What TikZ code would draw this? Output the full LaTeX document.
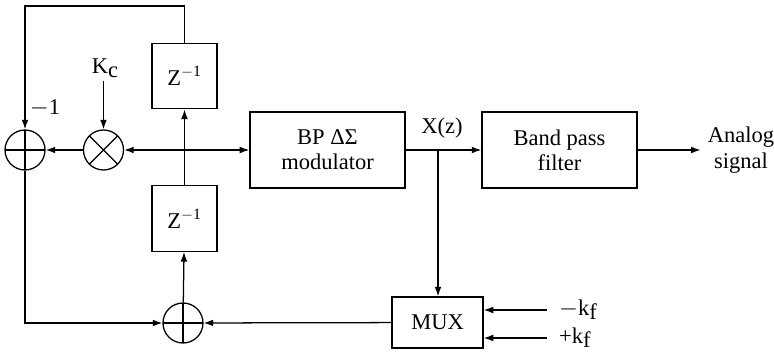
\documentclass[tikz,border=0pt]{standalone}
\usepackage{fontspec}
\setmainfont{Liberation Serif}
\usetikzlibrary{arrows.meta,positioning,calc}
\tikzset{
  bloque/.style={draw, line width=0.9pt, align=center, inner sep=2pt, font=\fontsize{16}{18}\selectfont},
  retardo/.style={bloque, minimum width=1.625cm, minimum height=1.64cm},
  suma/.style={draw, circle, line width=0.9pt, minimum size=1cm, inner sep=0pt,
    path picture={\draw[line width=0.9pt] (path picture bounding box.north) -- (path picture bounding box.south)
      (path picture bounding box.west) -- (path picture bounding box.east);}},
  producto/.style={draw, circle, line width=0.9pt, minimum size=1cm, inner sep=0pt,
    path picture={\draw[line width=0.9pt] (path picture bounding box.north west) -- (path picture bounding box.south east)
      (path picture bounding box.south west) -- (path picture bounding box.north east);}},
  fl/.style={-{Latex[length=2.4mm,width=1.7mm]}, line width=0.9pt},
  fl2/.style={{Latex[length=2.4mm,width=1.7mm]}-{Latex[length=2.4mm,width=1.7mm]}, line width=0.9pt},
  et/.style={font=\fontsize{16}{18}\selectfont, inner sep=2pt, align=center},
}
\begin{document}
\begin{tikzpicture}[x=0.025cm, y=-0.025cm]
  \useasboundingbox (0,0) rectangle (774,353);
  % bloques
  \node[suma] (sumA) at (25,150) {};
  \node[producto] (mult) at (103.5,150) {};
  \node[retardo] (zup) at (184.5,76) {Z\textsuperscript{$-$1}};
  \node[retardo] (zdn) at (184.5,218.5) {Z\textsuperscript{$-$1}};
  \node[bloque, minimum width=3.875cm, minimum height=1.9cm] (bp) at (327.5,150) {BP ΔΣ\\modulator};
  \node[bloque, minimum width=3.875cm, minimum height=1.9cm] (bpf) at (559.5,150) {Band pass\\filter};
  \node[bloque, minimum width=2.275cm, minimum height=1.275cm] (mux) at (437.5,322.5) {MUX};
  \node[suma] (sumB) at (183,323) {};
  % etiquetas
  \node[et] (kc) at (105,68) {K\raisebox{-0.4ex}{c}};
  \node[et] (menos) at (45,108) {$-$1};
  \node[et] (xz) at (442,128) {X(z)};
  \node[et] (analog) at (741,150) {Analog\\signal};
  \node[et, anchor=west] (mkf) at (556,310) {$-$k\raisebox{-0.4ex}{f}};
  \node[et, anchor=west] (pkf) at (556,338) {+k\raisebox{-0.4ex}{f}};
  \coordinate (arriba) at (0,6);
  \coordinate (rama) at (438,150);
  % conexiones
  \draw[fl] (mult) -- (sumA);
  \draw[fl2] (mult) -- (bp);
  \draw[fl] (mult |- kc.south) -- (mult.north);
  \draw[fl] (zdn) -- (zup);
  \draw[fl] (zup.north) -- (zup.north |- arriba) -| (sumA.north);
  \draw[fl] (sumA.south) |- (sumB.west);
  \draw[fl] (sumB) -- (zdn);
  \draw[fl] (mux) -- (sumB);
  \draw[fl] (bp) -- (bpf);
  \draw[fl] (rama) -- (rama |- mux.north);
  \draw[fl] (bpf.east) -- ++(63,0);
  \draw[fl] ($(mkf.west)+(-9,0)$) -- (mux.east |- mkf);
  \draw[fl] ($(pkf.west)+(-9,0)$) -- (mux.east |- pkf);
\end{tikzpicture}
\end{document}
